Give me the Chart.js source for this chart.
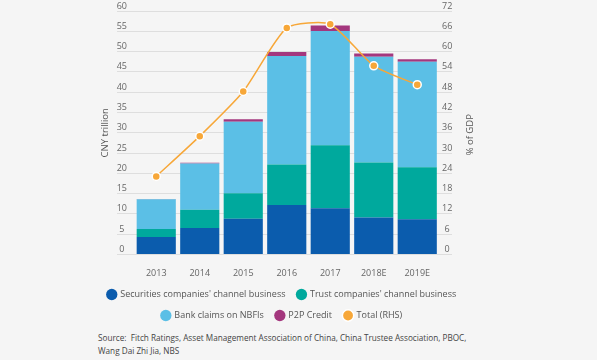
<!DOCTYPE html>
<html>
<head>
<meta charset="utf-8">
<script src="https://cdn.jsdelivr.net/npm/chart.js@4.4.0/dist/chart.umd.min.js"></script>
<style>
  body { margin: 0; background: #f5f5f5; font-family: "Open Sans", sans-serif; }
  #wrap { position: relative; width: 597px; height: 360px; }
  #source { position: absolute; left: 98px; top: 331px; font-size: 8.2px; line-height: 13px; color: #444; white-space: nowrap; }
</style>
</head>
<body>
<div id="wrap">
  <canvas id="chart" width="597" height="330"></canvas>
  <div id="source">Source:&nbsp; Fitch Ratings, Asset Management Association of China, China Trustee Association, PBOC,<br>Wang Dai Zhi Jia, NBS</div>
</div>
<script>
const years = ['2013', '2014', '2015', '2016', '2017', '2018E', '2019E'];
const securities = [4.3, 6.5, 8.8, 12.2, 11.4, 9.1, 8.7];
const trust = [2.0, 4.5, 6.3, 10.0, 15.5, 13.6, 12.8];
const bankClaims = [7.3, 11.4, 17.6, 26.7, 28.2, 26.0, 26.0];
const p2p = [0.05, 0.2, 0.6, 1.0, 1.3, 0.8, 0.6];
const totalGdp = [23.1, 35.0, 48.2, 67.0, 68.1, 55.8, 50.2];

Chart.defaults.font.family = '"Open Sans", sans-serif';
Chart.defaults.font.size = 9;
Chart.defaults.color = '#666';

const gridColor = '#dedede';

// right axis title reads bottom-to-top, so draw it here
const rightTitle = {
  id: 'rightTitle',
  afterDraw(chart) {
    const { ctx, chartArea } = chart;
    ctx.save();
    ctx.translate(470, (chartArea.top + chartArea.bottom) / 2 + 2);
    ctx.rotate(-Math.PI / 2);
    ctx.font = '9.5px "Open Sans", sans-serif';
    ctx.fillStyle = '#555';
    ctx.textAlign = 'center';
    ctx.textBaseline = 'middle';
    ctx.fillText('% of GDP', 0, 0);
    ctx.restore();
  }
};

const bar = (label, data, color) => ({
  type: 'bar',
  label,
  data,
  backgroundColor: color,
  borderWidth: 0,
  barPercentage: 0.9,
  categoryPercentage: 1.0,
  yAxisID: 'y',
  order: 1
});

new Chart(document.getElementById('chart'), {
  data: {
    labels: years,
    datasets: [
      bar("Securities companies' channel business", securities, '#0b5cad'),
      bar("Trust companies' channel business", trust, '#00a99d'),
      bar('Bank claims on NBFIs', bankClaims, '#5bbfe6'),
      bar('P2P Credit', p2p, '#a4377e'),
      {
        type: 'line',
        label: 'Total (RHS)',
        data: totalGdp,
        yAxisID: 'y1',
        borderColor: '#f7a738',
        backgroundColor: '#f7a738',
        borderWidth: 1.5,
        pointRadius: 4,
        pointBorderColor: '#fff',
        pointBorderWidth: 1.5,
        pointBackgroundColor: '#f7a738',
        tension: 0.2,
        order: 0
      }
    ]
  },
  options: {
    responsive: false,
    animation: false,
    layout: { padding: { left: 82, right: 115, top: 11, bottom: 0 } },
    plugins: {
      tooltip: { enabled: false },
      legend: {
        position: 'bottom',
        labels: {
          usePointStyle: true,
          pointStyle: 'circle',
          boxWidth: 8,
          boxHeight: 8,
          padding: 12,
          color: '#555',
          font: { size: 9 },
          sort: (a, b) => a.datasetIndex - b.datasetIndex
        }
      }
    },
    scales: {
      x: {
        stacked: true,
        grid: { display: false },
        border: { display: false },
        ticks: { padding: 6 },
        afterFit(scale) { scale.height = 23.5; }
      },
      y: {
        stacked: true,
        position: 'left',
        min: 0,
        max: 60,
        ticks: { stepSize: 5, crossAlign: 'center', padding: -10, labelOffset: -5 },
        grid: { color: gridColor, tickLength: 17.5 },
        border: { display: false },
        title: { display: true, text: 'CNY trillion', color: '#555', font: { size: 9.5 }, padding: { top: 18, bottom: 0 } },
        afterFit(scale) { scale.width = 52.5; }
      },
      y1: {
        position: 'right',
        min: 0,
        max: 72,
        ticks: { stepSize: 6, crossAlign: 'center', padding: -10, labelOffset: -5 },
        grid: { drawOnChartArea: false, color: gridColor, tickLength: 13 },
        border: { display: false },
        afterFit(scale) { scale.width = 43; }
      }
    }
  },
  plugins: [rightTitle]
});
</script>
</body>
</html>
